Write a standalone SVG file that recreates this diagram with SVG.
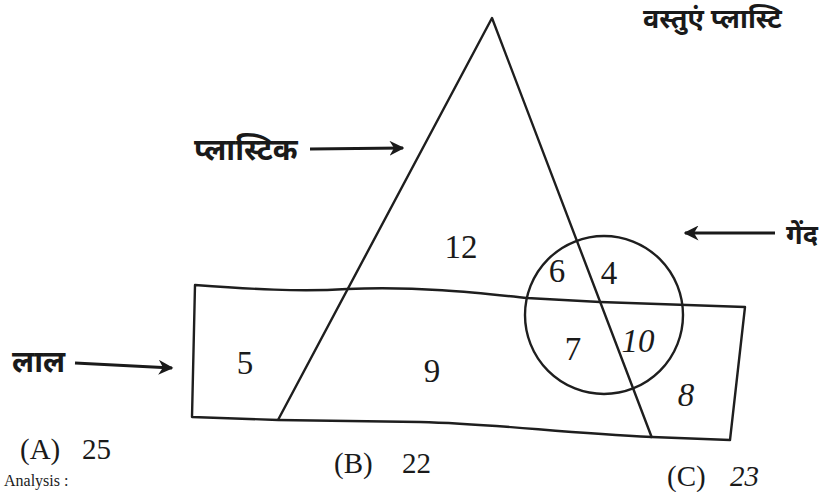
<svg xmlns="http://www.w3.org/2000/svg" width="823" height="492" viewBox="0 0 823 492">
<defs>
<style>
.ln{fill:none;stroke:#1e1e1e;stroke-width:2.4;stroke-linejoin:round}
.num{font-family:"Liberation Serif",serif;font-size:33px;fill:#1a1a1a;text-anchor:middle}
.opt{font-family:"Liberation Serif",serif;font-size:29px;fill:#1a1a1a}
.hin{font-family:"Noto Sans","Noto Sans Devanagari","Lohit Devanagari",sans-serif;font-size:30px;fill:#1a1a1a;font-weight:bold}
.arr{fill:none;stroke:#1a1a1a;stroke-width:3}
</style>
<marker id="ah" viewBox="0 0 10 10" refX="9" refY="5" markerWidth="5" markerHeight="5" orient="auto">
<path d="M0,0 L10,5 L0,10 L3,5 Z" fill="#1a1a1a"/>
</marker>
</defs>
<rect width="823" height="492" fill="#ffffff"/>
<text x="643" y="28" class="hin" style="font-size:27px">वस्तुएं प्लास्टि</text>
<g id="connectors">
<line class="arr" x1="310" y1="149" x2="403" y2="148" marker-end="url(#ah)"/>
<line class="arr" x1="75" y1="363" x2="172" y2="368" marker-end="url(#ah)"/>
<line class="arr" x1="775" y1="233" x2="685" y2="233" marker-end="url(#ah)"/>
</g>
<g id="red-set">
<path class="ln" d="M195,285 C250,289 300,292 347,289 C420,286 480,293 527,298 L600,302 L745,307 L730,440 L652,437 C560,433 500,424 420,422 L278,420 L192,417 Z"/>
<text x="245" y="374" class="num">5</text>
<text x="432" y="382" class="num">9</text>
<text x="686" y="406" class="num" style="font-style:italic">8</text>
</g>
<g id="plastic-set">
<path class="ln" d="M278,420 L492,18 L652,438"/>
<text x="461" y="258" class="num">12</text>
</g>
<g id="ball-set">
<circle class="ln" cx="604" cy="315" r="79"/>
<text x="557" y="282" class="num">6</text>
<text x="609" y="284" class="num">4</text>
<text x="573" y="360" class="num">7</text>
<text x="638" y="352" class="num" style="font-style:italic">10</text>
</g>
<g id="labels">
<text x="194" y="160" class="hin">प्लास्टिक</text>
<text x="12" y="372" class="hin">लाल</text>
<text x="786" y="244" class="hin" style="font-size:27px">गेंद</text>
</g>
<g id="options">
<text class="opt" y="459"><tspan x="20">(A)</tspan><tspan x="82">25</tspan></text>
<text class="opt" y="473"><tspan x="334">(B)</tspan><tspan x="402">22</tspan></text>
<text class="opt" y="486"><tspan x="667">(C)</tspan><tspan x="730" style="font-style:italic">23</tspan></text>
<text x="4" y="486" class="opt" style="font-size:16px">Analysis :</text>
</g>
</svg>
